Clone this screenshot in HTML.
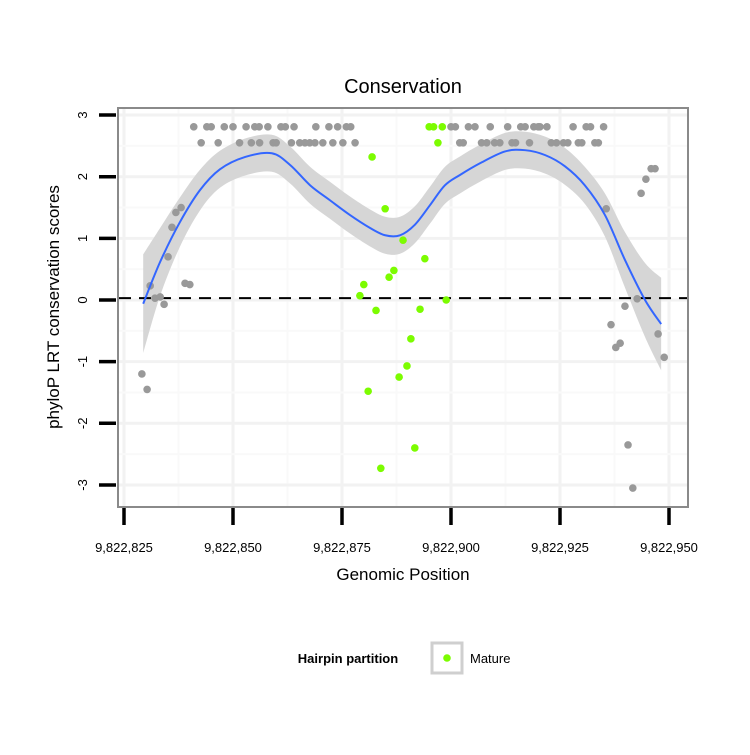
<!DOCTYPE html>
<html><head><meta charset="utf-8"><style>
body{margin:0;background:#fff}
text{font-family:"Liberation Sans",sans-serif}
</style></head><body>
<svg id="chart" width="750" height="750" xmlns="http://www.w3.org/2000/svg">
<rect x="0" y="0" width="750" height="750" fill="#fff"/>
<text x="403" y="93" font-size="20" text-anchor="middle">Conservation</text>
<rect x="118" y="108" width="570" height="399" fill="#fff"/>
<g id="grid"></g>
<g id="band"></g>
<line id="zero" stroke="#000" stroke-width="2" stroke-dasharray="12,8"/>
<g id="pts"></g>
<g id="smooth"></g>
<rect x="118" y="108" width="570" height="399" fill="none" stroke="#8a8a8a" stroke-width="2"/>
<g id="axes"></g>
<text x="403" y="580" font-size="17" text-anchor="middle">Genomic Position</text>
<text transform="translate(59,307) rotate(-90)" font-size="17" text-anchor="middle">phyloP LRT conservation scores</text>
<g>
<text x="348" y="663" font-size="13" font-weight="bold" text-anchor="middle">Hairpin partition</text>
<rect x="432" y="643" width="30" height="30" fill="#fff" stroke="#cfcfcf" stroke-width="3"/>
<circle cx="447" cy="658" r="3.8" fill="#7cfc00"/>
<text x="470" y="663" font-size="13">Mature</text>
</g>
</svg>
<script>
const BASE = 9822825;
const xTicks = [9822825, 9822850, 9822875, 9822900, 9822925, 9822950];
const xTickLabels = ["9,822,825","9,822,850","9,822,875","9,822,900","9,822,925","9,822,950"];
const yTicks = [-3,-2,-1,0,1,2,3];
const yTickLabels = ["-3","-2","-1","0","1","2","3"];
const greyX = [16,19,20,23,25,28,30,31,33,36,37,39,44,47,49,51,52,75,76,79,80.5,84,88,91,92,94,95,95.4,97,103,106,107,110,
 17.7,21.6,26.5,29.2,31.1,34.2,34.9,38.4,40.3,41.5,42.6,43.8,45.6,47.9,50.2,53,77,77.8,82,83.2,85,86.2,89,89.8,93,98,99.2,100.8,101.8,104.2,105,108,108.8,
 4.1,5.3,6,7.1,8.3,9.2,10.1,11,11.9,13.1,14,15.1,
 110.6,111.7,112.8,113.8,114.9,115.6,116.7,117.7,118.6,119.7,120.9,121.8,122.5,123.9];
const greyY = [2.81,2.81,2.81,2.81,2.81,2.81,2.81,2.81,2.81,2.81,2.81,2.81,2.81,2.81,2.81,2.81,2.81,2.81,2.81,2.81,2.81,2.81,2.81,2.81,2.81,2.81,2.81,2.81,2.81,2.81,2.81,2.81,2.81,
 2.55,2.55,2.55,2.55,2.55,2.55,2.55,2.55,2.55,2.55,2.55,2.55,2.55,2.55,2.55,2.55,2.55,2.55,2.55,2.55,2.55,2.55,2.55,2.55,2.55,2.55,2.55,2.55,2.55,2.55,2.55,2.55,2.55,
 -1.2,-1.45,0.23,0.03,0.05,-0.07,0.7,1.18,1.42,1.5,0.27,0.25,
 1.48,-0.4,-0.77,-0.7,-0.1,-2.35,-3.05,0.02,1.73,1.96,2.13,2.13,-0.55,-0.93];
const matureX = [70,71,73,72,54.1,55,56,56.9,57.8,58.9,59.9,60.8,61.9,63.1,64,64.9,65.8,66.7,67.9,69,73.9];
const matureY = [2.81,2.81,2.81,2.55,0.07,0.25,-1.48,2.32,-0.17,-2.73,1.48,0.37,0.48,-1.25,0.97,-1.07,-0.63,-2.4,-0.15,0.67,0.0];
const smoothX = [4.4,8.3,12.8,17.4,22,27.8,33.9,38.1,42.7,47.2,51.8,56.4,59.9,63.3,66.7,70.2,73.6,77.1,81.7,87.4,92,96.6,101.1,105.7,110.3,114.9,119.5,123.2];
const smoothY = [-0.06,0.62,1.26,1.78,2.12,2.32,2.38,2.19,1.86,1.62,1.38,1.17,1.05,1.05,1.22,1.54,1.86,2.03,2.22,2.41,2.43,2.35,2.17,1.86,1.38,0.65,0,-0.39];
const smoothSE = [0.8,0.55,0.4,0.33,0.3,0.3,0.3,0.3,0.3,0.3,0.3,0.3,0.3,0.3,0.3,0.3,0.3,0.3,0.3,0.3,0.3,0.3,0.3,0.3,0.35,0.45,0.6,0.75];

const NS="http://www.w3.org/2000/svg";
const xs = v => 124 + (v - BASE) * 4.36;
const xo = o => xs(BASE + o);
const ys = v => 300 - v * 61.65;
function mk(tag, attrs, parent){const e=document.createElementNS(NS,tag);for(const k in attrs)e.setAttribute(k,attrs[k]);parent.appendChild(e);return e;}
function curve(p, first){
  let d=(first?'M':'L')+p[0][0]+','+p[0][1];
  for(let i=0;i<p.length-1;i++){
    const p0=p[i-1]||p[i], p1=p[i], p2=p[i+1], p3=p[i+2]||p2;
    const c1x=p1[0]+(p2[0]-p0[0])/6, c1y=p1[1]+(p2[1]-p0[1])/6;
    const c2x=p2[0]-(p3[0]-p1[0])/6, c2y=p2[1]-(p3[1]-p1[1])/6;
    d+='C'+c1x+','+c1y+' '+c2x+','+c2y+' '+p2[0]+','+p2[1];
  }
  return d;
}
const gridG=document.getElementById('grid');
for(let i=0;i<xTicks.length;i++){
  for(const v of [xTicks[i], xTicks[i]+12.5]){
    const x=xs(v); if(x<119||x>687) continue;
    const l=mk('line',{x1:x,x2:x,y1:109,y2:506,stroke:v===xTicks[i]?'#f2f2f2':'#f9f9f9','stroke-width':v===xTicks[i]?3:2},gridG);
    
    
  }
}
for(const t of yTicks){
  for(const v of [t, t+0.5]){
    const y=ys(v); if(y<109||y>506) continue;
    const l=mk('line',{x1:119,x2:687,y1:y,y2:y,stroke:v===t?'#f2f2f2':'#f9f9f9','stroke-width':v===t?3:2},gridG);
    
    
  }
}
const upper=[], lower=[], mid=[];
for(let i=0;i<smoothX.length;i++){
  upper.push([xo(smoothX[i]), ys(smoothY[i]+smoothSE[i])]);
  lower.unshift([xo(smoothX[i]), ys(smoothY[i]-smoothSE[i])]);
  mid.push([xo(smoothX[i]), ys(smoothY[i])]);
}
const bandEl=mk('path',{d:curve(upper,true)+curve(lower,false)+'Z',fill:'#d6d6d6'},document.getElementById('band'));


const zeroLine=document.getElementById('zero');
zeroLine.setAttribute('x1',119);zeroLine.setAttribute('x2',687);zeroLine.setAttribute('y1',ys(0.03));zeroLine.setAttribute('y2',ys(0.03));
const ptsG=document.getElementById('pts');
for(let i=0;i<greyX.length;i++){
  const c=mk('circle',{cx:xo(greyX[i]),cy:ys(greyY[i]),r:3.8,fill:'#999'},ptsG);
  
  
}
for(let i=0;i<matureX.length;i++){
  const c=mk('circle',{cx:xo(matureX[i]),cy:ys(matureY[i]),r:3.8,fill:'#7cfc00'},ptsG);
  
  
}
const sm=mk('path',{d:curve(mid,true),fill:'none',stroke:'#3366ff','stroke-width':2},document.getElementById('smooth'));


const axG=document.getElementById('axes');
for(let i=0;i<xTicks.length;i++){
  const x=xs(xTicks[i]);
  const t=mk('line',{x1:x,x2:x,y1:508,y2:525,stroke:'#000','stroke-width':3.5},axG);
  
  
  const l=mk('text',{x:x,y:552,'font-size':13,'text-anchor':'middle'},axG);
  l.textContent=xTickLabels[i];
  
  
}
for(let i=0;i<yTicks.length;i++){
  const y=ys(yTicks[i]);
  const t=mk('line',{x1:99,x2:116,y1:y,y2:y,stroke:'#000','stroke-width':3.5},axG);
  
  
  const l=mk('text',{transform:'translate(87,'+y+') rotate(-90)','font-size':13,'text-anchor':'middle'},axG);
  l.textContent=yTickLabels[i];
  
  
}
</script>
</body></html>
